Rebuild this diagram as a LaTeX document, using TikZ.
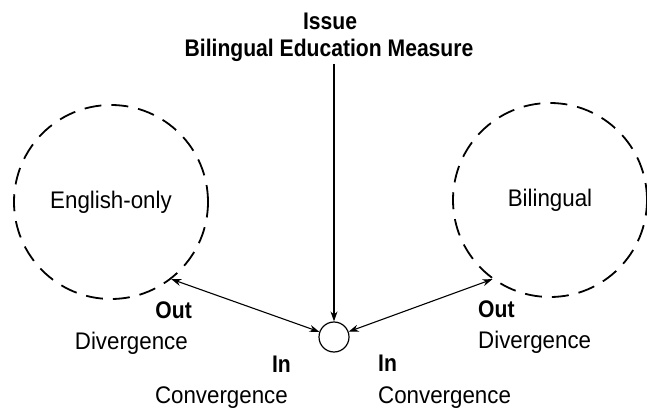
\documentclass[tikz,border=0pt]{standalone}
\usepackage{fontspec}
\setmainfont{Liberation Sans}[FakeStretch=0.93]
\newfontfamily\bcond{Liberation Sans}[FakeStretch=0.88]
\usetikzlibrary{arrows.meta}
\begin{document}
\begin{tikzpicture}[x=1pt,y=-1pt,
  every node/.style={font=\fontsize{24}{27}\selectfont, inner sep=0pt},
  group/.style={circle, draw, line width=1.8pt, dash pattern=on 17pt off 10pt, minimum size=194pt},
  hubnode/.style={circle, draw, line width=1.2pt, minimum size=30pt},
  bold/.style={font=\fontsize{24}{27}\bcond\bfseries},
  link/.style={line width=1.1pt, {Stealth[length=10pt,width=7pt]}-{Stealth[length=10pt,width=7pt]}},
  push/.style={line width=1.1pt, -{Stealth[length=10pt,width=7pt]}}]
\useasboundingbox (0,0) rectangle (647,411);
\node[bold, anchor=base] (issue) at (330,30) {Issue};
\node[bold, anchor=base] (measure) at (329,57) {Bilingual Education Measure};
\node[group] (eng) at (111,202) {English-only};
\node[group] (bil) at (550,200) {Bilingual};
\node[hubnode] (hub) at (334,337) {};
\coordinate (src) at (334,64);
\draw[push] (src) -- (hub);
\draw[link] (eng.-52) -- (hub);
\draw[link] (bil.-126) -- (hub);
\node[bold, anchor=base east] (outL) at (192,318) {Out};
\node[anchor=base east] (divL) at (188,349) {Divergence};
\node[bold, anchor=base east] (inL) at (291,372) {In};
\node[anchor=base east] (convL) at (288,403) {Convergence};
\node[bold, anchor=base west] (outR) at (478,317) {Out};
\node[anchor=base west] (divR) at (478,348) {Divergence};
\node[bold, anchor=base west] (inR) at (378,371) {In};
\node[anchor=base west] (convR) at (378,403) {Convergence};
\end{tikzpicture}
\end{document}
